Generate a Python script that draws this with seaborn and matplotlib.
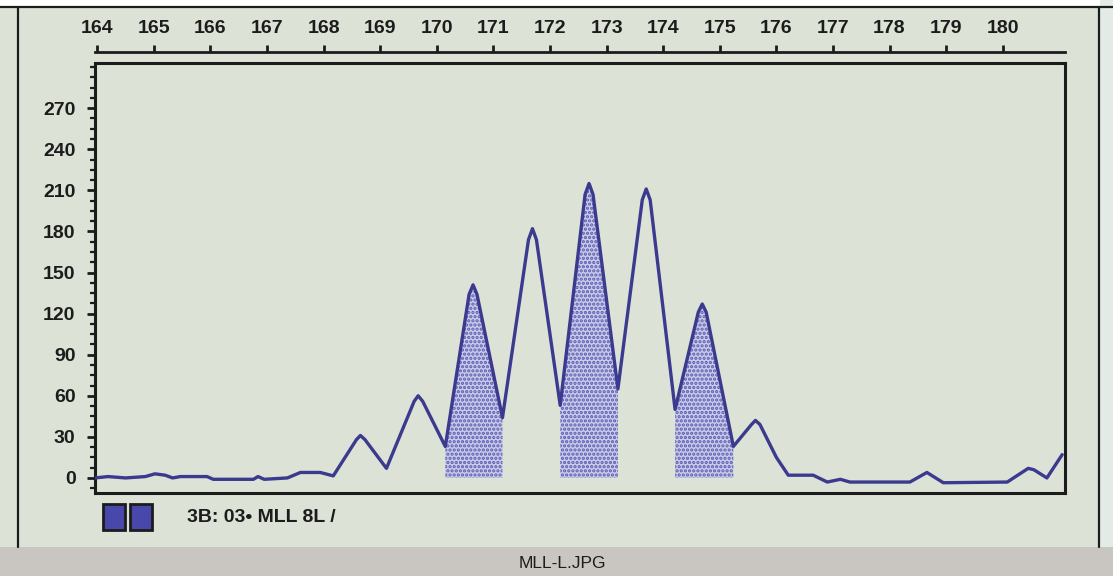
import numpy as np
import pandas as pd
import seaborn as sns
import matplotlib.pyplot as plt
from matplotlib.patches import Rectangle
from matplotlib.lines import Line2D
from matplotlib.ticker import AutoMinorLocator

# fragment size (bp) and signal
size = [163.96, 164.19, 164.5, 164.85, 165.02, 165.2, 165.33, 165.47, 165.94, 166.05,
        166.76, 166.84, 166.95, 167.36, 167.59, 167.94, 168.17, 168.58, 168.65, 168.73,
        169.11, 169.6, 169.67, 169.75, 170.15, 170.57, 170.64, 170.71, 171.16, 171.62,
        171.69, 171.76, 172.18, 172.62, 172.69, 172.76, 173.2, 173.63, 173.7, 173.77,
        174.21, 174.62, 174.69, 174.76, 175.24, 175.56, 175.63, 175.71, 176.0, 176.21,
        176.65, 176.9, 177.13, 177.3, 178.36, 178.66, 178.95, 180.08, 180.45, 180.55,
        180.78, 181.05]
signal = [0, 1, 0, 1, 3, 2, 0, 1, 1, -1,
          -1, 1, -1, 0, 4, 4, 1.5, 28, 31, 28,
          7, 56, 60, 56, 23, 134, 141, 134, 44, 174,
          182, 174, 53, 207, 215, 207, 65, 203, 211, 203,
          50, 121, 127, 121, 23, 39, 42, 39, 15, 2,
          2, -3, -1, -3, -3, 4, -3.5, -3, 7, 6,
          0, 17]

# shaded peak windows (start, end)
windows = [(170.15, 171.16), (172.18, 173.20), (174.21, 175.24)]

x_ticks = list(range(164, 181))
y_ticks = list(range(0, 271, 30))

label_text = "3B: 03\u2022 MLL 8L /"
file_name = "MLL-L.JPG"

df = pd.DataFrame({"size": size, "signal": signal})

bg = "#dce3d6"
line_col = "#3b3a8e"
ink = "#1c1c1c"

sns.set_style("white", {"axes.facecolor": bg, "figure.facecolor": bg,
                        "axes.edgecolor": ink})
plt.rcParams["font.family"] = ["Liberation Sans", "DejaVu Sans"]
plt.rcParams["hatch.linewidth"] = 1.6

fig = plt.figure(figsize=(11.13, 5.76), dpi=100)
ax = fig.add_axes([95 / 1113, 83 / 576, 970 / 1113, 430 / 576])

sns.lineplot(data=df, x="size", y="signal", ax=ax, color=line_col, lw=2.4,
             sort=False, zorder=3)

xs = np.array(size)
ys = np.array(signal)
for a, b in windows:
    m = (xs >= a - 1e-9) & (xs <= b + 1e-9)
    ax.fill_between(xs[m], 0, ys[m], facecolor="#c9cbe8", edgecolor="#5b5bb4",
                    hatch="....", linewidth=0, zorder=2)

ax.set_xlim(163.96, 181.1)
ax.set_ylim(-11, 303)
ax.set_xlabel("")
ax.set_ylabel("")
ax.set_xticks([])
for s in ax.spines.values():
    s.set_linewidth(2.2)
    s.set_color(ink)

ax.set_yticks(y_ticks)
ax.yaxis.set_minor_locator(AutoMinorLocator(4))
ax.tick_params(axis="y", which="both", left=True)
ax.tick_params(axis="y", which="major", direction="out", length=6, width=2,
               color=ink, pad=8, labelsize=14, labelcolor=ink)
ax.tick_params(axis="y", which="minor", direction="out", length=3.5, width=1.6,
               color=ink)
for t in ax.get_yticklabels():
    t.set_fontweight("bold")

sec = ax.secondary_xaxis(1.026)
sec.set_xticks(x_ticks)
sec.tick_params(top=True, direction="out", length=5, width=2, color=ink, pad=6,
                labelsize=14, labelcolor=ink)
sec.spines["top"].set_linewidth(2)
sec.spines["top"].set_color(ink)
for t in sec.get_xticklabels():
    t.set_fontweight("bold")

# page frame, top white strip, bottom caption bar
fig.add_artist(Rectangle((0, 1 - 6 / 576), 1, 6 / 576, transform=fig.transFigure,
                         facecolor="white", edgecolor="none"))
fig.add_artist(Rectangle((1100 / 1113, 0), 13 / 1113, 1, transform=fig.transFigure,
                         facecolor="#e3ebe6", edgecolor="none"))
fig.add_artist(Line2D([0, 1], [1 - 7 / 576] * 2, transform=fig.transFigure,
                      color=ink, lw=1.6))
fig.add_artist(Line2D([18 / 1113] * 2, [29 / 576, 1 - 7 / 576],
                      transform=fig.transFigure, color=ink, lw=1.6))
fig.add_artist(Line2D([1099 / 1113] * 2, [29 / 576, 1 - 7 / 576],
                      transform=fig.transFigure, color=ink, lw=1.6))
fig.add_artist(Rectangle((0, 0), 1, 29 / 576, transform=fig.transFigure,
                         facecolor="#c9c5c1", edgecolor="none"))
fig.text(562 / 1113, 13 / 576, file_name, ha="center", va="center", fontsize=12.5,
         color=ink, family=["Liberation Sans Narrow", "Liberation Sans"])

# channel swatches and run label
for x0 in (103, 130):
    fig.add_artist(Rectangle((x0 / 1113, 46 / 576), 22 / 1113, 26 / 576,
                             transform=fig.transFigure, facecolor="#4848ab",
                             edgecolor=ink, lw=2))
fig.text(187 / 1113, 59 / 576, label_text, ha="left", va="center", fontsize=14,
         fontweight="bold", color=ink)

fig.savefig("out.png", dpi=100, facecolor=fig.get_facecolor())
